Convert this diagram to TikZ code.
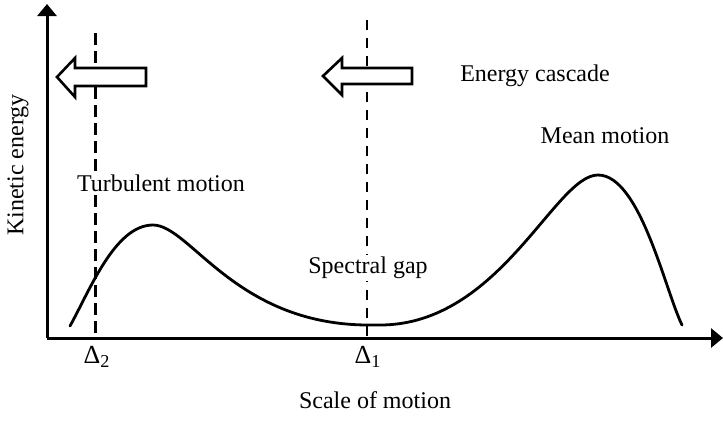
\documentclass[tikz,border=0pt]{standalone}
\usepackage{fontspec}
\setmainfont{Liberation Serif}
\usetikzlibrary{arrows.meta}
\tikzset{
  axisline/.style={line width=1.5pt, -{Triangle[length=6pt,width=9.5pt]}},
  blockarrow/.style={line width=1.3pt, fill=white, line join=miter},
  lbl/.style={font=\fontsize{12}{14}\selectfont, inner sep=1pt, fill=white}
}
\begin{document}
\begin{tikzpicture}[x=0.5pt, y=-0.5pt]
  \useasboundingbox (0,0) rectangle (723,420);
  \coordinate (O) at (47,338);
  \coordinate (Ytop) at (47,4);
  \coordinate (Xend) at (723,338);
  \coordinate (D2top) at (95,33);
  \coordinate (D2bot) at (95,338);
  \coordinate (D1top) at (367,20);
  \coordinate (D1bot) at (367,338);
  % scale markers
  \draw[line width=1.5pt, dash pattern=on 6pt off 3pt] (D2top) -- (D2bot);
  \draw[line width=1pt, dash pattern=on 5pt off 4pt] (D1top) -- (D1bot);
  % axes
  \draw[axisline] (O) -- (Ytop);
  \draw[axisline] (O) -- (Xend);
  % spectrum
  \draw[line width=1.4pt, line cap=round] (70,326)
    .. controls (90,290) and (115,225) .. (153,225)
    .. controls (190,225) and (235,324) .. (367,325)
    -- (380,325)
    .. controls (500,325) and (555,175) .. (598,175)
    .. controls (640,175) and (665,290) .. (682,325);
  % energy cascade arrows
  \draw[blockarrow] (57,77) -- (75,58) -- (75,68) -- (146,68) -- (146,86)
    -- (75,86) -- (75,97) -- cycle;
  \draw[blockarrow] (323,76) -- (342,58) -- (342,68) -- (412,68) -- (412,84)
    -- (342,84) -- (342,95) -- cycle;
  % labels
  \node[lbl] (cascade) at (535,76) {Energy cascade};
  \node[lbl] (mean) at (605,136) {Mean motion};
  \node[lbl] (turb) at (161,183) {Turbulent motion};
  \node[lbl] (gap) at (368,268) {Spectral gap};
  \node[lbl, font=\fontsize{13}{15}\selectfont] (d2) at (97,357) {Δ\textsubscript{2}};
  \node[lbl, font=\fontsize{13}{15}\selectfont] (d1) at (368,357) {Δ\textsubscript{1}};
  \node[lbl] (xlab) at (375,400) {Scale of motion};
  \node[lbl, rotate=90] (ylab) at (18,165) {Kinetic energy};
\end{tikzpicture}
\end{document}
